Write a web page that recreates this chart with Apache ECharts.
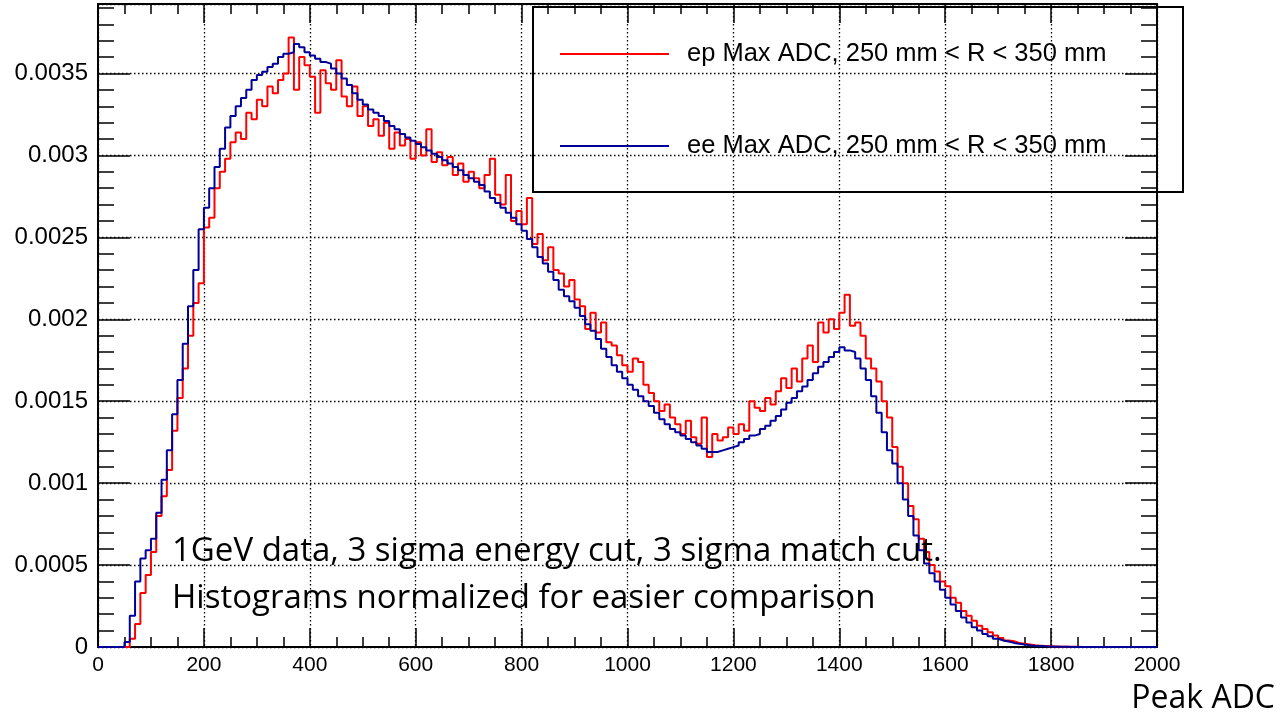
<!DOCTYPE html>
<html>
<head>
<meta charset="utf-8">
<script src="https://cdn.jsdelivr.net/npm/echarts@6/dist/echarts.min.js"></script>
<style>
html,body{margin:0;padding:0;background:#fff;}
#chart{width:1281px;height:715px;}
</style>
</head>
<body>
<div id="chart"></div>
<script>
// Bin width 10 ADC, bins start at 0. Values in units of 1e-3.
const binWidth = 10;
const xMax = 2000;
const yTicks = ['0','0.0005','0.001','0.0015','0.002','0.0025','0.003','0.0035'];
const seriesNames = ['ep Max ADC, 250 mm < R < 350 mm', 'ee Max ADC, 250 mm < R < 350 mm'];

const epValues = [
  0,0,0,0,0,0,0.05,0.14,0.33,0.44,
  0.58,0.80,0.92,1.08,1.32,1.52,1.70,1.90,2.10,2.22,
  2.56,2.62,2.80,2.90,2.98,3.08,3.14,3.10,3.26,3.22,
  3.34,3.30,3.42,3.38,3.46,3.50,3.72,3.40,3.60,3.55,
  3.48,3.26,3.52,3.44,3.40,3.58,3.36,3.30,3.42,3.24,
  3.30,3.18,3.22,3.12,3.20,3.04,3.14,3.06,3.10,2.98,
  3.08,3.00,3.16,2.96,3.02,2.94,2.99,2.88,2.95,2.84,
  2.90,2.86,2.80,2.88,2.98,2.76,2.70,2.88,2.60,2.66,
  2.58,2.74,2.46,2.52,2.36,2.44,2.30,2.28,2.20,2.24,
  2.12,2.08,1.94,2.04,1.92,1.98,1.86,1.84,1.78,1.72,
  1.68,1.76,1.74,1.60,1.55,1.50,1.44,1.48,1.40,1.36,
  1.30,1.38,1.28,1.24,1.40,1.16,1.30,1.26,1.28,1.34,
  1.30,1.36,1.32,1.50,1.46,1.44,1.52,1.48,1.56,1.64,
  1.58,1.70,1.62,1.76,1.84,1.74,1.98,1.92,2.00,1.94,
  2.04,2.15,1.96,1.98,1.90,1.76,1.70,1.62,1.50,1.40,
  1.22,1.10,1.00,0.86,0.78,0.66,0.58,0.50,0.46,0.40,
  0.37,0.30,0.27,0.22,0.19,0.16,0.13,0.11,0.09,0.07,
  0.055,0.04,0.035,0.025,0.02,0.015,0.01,0.008,0.006,0.004,
  0.003,0.002,0.002,0.001,0.001,0,0,0,0,0,
  0,0,0,0,0,0,0,0,0,0
];

const eeValues = [
  0,0,0,0,0,0.03,0.19,0.40,0.54,0.59,
  0.66,0.82,1.02,1.20,1.42,1.63,1.85,2.08,2.30,2.55,
  2.68,2.80,2.93,3.04,3.17,3.24,3.30,3.35,3.40,3.46,
  3.49,3.51,3.54,3.56,3.60,3.62,3.63,3.68,3.66,3.63,
  3.61,3.59,3.57,3.56,3.53,3.50,3.47,3.43,3.38,3.34,
  3.31,3.28,3.26,3.24,3.21,3.18,3.16,3.13,3.11,3.09,
  3.07,3.05,3.03,3.01,2.99,2.97,2.95,2.93,2.91,2.88,
  2.86,2.84,2.82,2.78,2.74,2.71,2.68,2.65,2.62,2.58,
  2.54,2.49,2.44,2.38,2.34,2.29,2.24,2.18,2.14,2.11,
  2.07,2.02,1.97,1.93,1.88,1.82,1.77,1.72,1.68,1.64,
  1.60,1.57,1.53,1.50,1.47,1.43,1.39,1.36,1.33,1.31,
  1.29,1.27,1.25,1.23,1.21,1.19,1.19,1.20,1.21,1.22,
  1.23,1.25,1.27,1.29,1.30,1.33,1.35,1.38,1.41,1.45,
  1.49,1.52,1.56,1.59,1.63,1.67,1.71,1.74,1.77,1.80,
  1.83,1.81,1.80,1.76,1.70,1.63,1.53,1.43,1.31,1.20,
  1.12,1.00,0.90,0.80,0.68,0.59,0.51,0.45,0.40,0.35,
  0.30,0.26,0.22,0.18,0.15,0.12,0.10,0.08,0.065,0.05,
  0.04,0.033,0.025,0.02,0.015,0.011,0.008,0.006,0.004,0.003,
  0.002,0.0015,0.001,0.0005,0.0005,0,0,0,0,0,
  0,0,0,0,0,0,0,0,0,0
];

function toSteps(vals) {
  const pts = vals.map((v, i) => [i * binWidth, v * 1e-3]);
  pts.push([vals.length * binWidth, vals[vals.length - 1] * 1e-3]);
  return pts;
}

const chart = echarts.init(document.getElementById('chart'), null, {renderer: 'canvas'});
const gridL = 98, gridR = 124, gridT = 4, gridB = 68;
const yMax = 0.003924;
const labelFont = "'Liberation Sans', Arial, Helvetica, sans-serif";
const noteFont = "33px 'Open Sans', 'Noto Sans', sans-serif";
const gridLine = {show: true, lineStyle: {color: '#000', width: 1.3, type: [1.5, 2.5]}};

const option = {
  animation: false,
  backgroundColor: '#fff',
  grid: {left: gridL, right: gridR, top: gridT, bottom: gridB, show: true, borderColor: '#000', borderWidth: 2},
  xAxis: [{
    type: 'value', min: 0, max: xMax, interval: 200, position: 'bottom',
    axisLine: {show: true, onZero: false, lineStyle: {color: '#000', width: 2}},
    axisTick: {show: true, inside: true, length: 19, lineStyle: {color: '#000', width: 1.5}},
    minorTick: {show: true, splitNumber: 4, length: 10, lineStyle: {color: '#000', width: 1.5}},
    axisLabel: {show: true, color: '#000', fontSize: 21, fontFamily: labelFont, margin: 8,
      formatter: function (v) { return String(Math.round(v)); }},
    splitLine: gridLine
  }, {
    type: 'value', min: 0, max: xMax, interval: 200, position: 'top',
    axisLine: {show: true, onZero: false, lineStyle: {color: '#000', width: 2}},
    axisTick: {show: true, inside: true, length: 19, lineStyle: {color: '#000', width: 1.5}},
    minorTick: {show: true, splitNumber: 4, length: 10, lineStyle: {color: '#000', width: 1.5}},
    axisLabel: {show: false},
    splitLine: {show: false}
  }],
  yAxis: [{
    type: 'value', min: 0, max: yMax, interval: 0.0005, position: 'left',
    axisLine: {show: true, onZero: false, lineStyle: {color: '#000', width: 2}},
    axisTick: {show: true, inside: true, length: 32, lineStyle: {color: '#000', width: 1.5}},
    minorTick: {show: true, splitNumber: 5, length: 16, lineStyle: {color: '#000', width: 1.5}},
    axisLabel: {
      show: true, color: '#000', fontSize: 24, fontFamily: labelFont, margin: 10, showMaxLabel: false,
      formatter: function (v) {
        const idx = Math.round(v / 0.0005);
        return Math.abs(v - idx * 0.0005) < 1e-9 && idx < yTicks.length ? yTicks[idx] : '';
      }
    },
    splitLine: gridLine
  }, {
    type: 'value', min: 0, max: yMax, interval: 0.0005, position: 'right',
    axisLine: {show: true, onZero: false, lineStyle: {color: '#000', width: 2}},
    axisTick: {show: true, inside: true, length: 32, lineStyle: {color: '#000', width: 1.5}},
    minorTick: {show: true, splitNumber: 5, length: 16, lineStyle: {color: '#000', width: 1.5}},
    axisLabel: {show: false},
    splitLine: {show: false}
  }],
  legend: {
    show: true, orient: 'vertical', left: 555, top: 34,
    itemWidth: 109, itemHeight: 2, itemGap: 62, icon: 'rect',
    data: seriesNames,
    textStyle: {fontSize: 25.5, fontFamily: labelFont, color: '#000', padding: [0, 0, 0, 13], lineHeight: 30}
  },
  series: [{
    name: seriesNames[0], type: 'line', step: 'end', showSymbol: false,
    xAxisIndex: 0, yAxisIndex: 0, z: 3,
    lineStyle: {color: '#ff0000', width: 2}, itemStyle: {color: '#ff0000'},
    data: toSteps(epValues)
  }, {
    name: seriesNames[1], type: 'line', step: 'end', showSymbol: false,
    xAxisIndex: 0, yAxisIndex: 0, z: 4,
    lineStyle: {color: '#000099', width: 2}, itemStyle: {color: '#000099'},
    data: toSteps(eeValues)
  }],
  graphic: [{
    type: 'rect', left: 532, top: 6, z: 10, silent: true,
    shape: {width: 650, height: 185},
    style: {fill: 'rgba(0,0,0,0)', stroke: '#000', lineWidth: 2}
  }, {
    type: 'text', left: 172, top: 535, z: 10,
    style: {text: '1GeV data, 3 sigma energy cut, 3 sigma match cut.', font: noteFont, fill: '#000'}
  }, {
    type: 'text', left: 172, top: 582, z: 10,
    style: {text: 'Histograms normalized for easier comparison', font: noteFont, fill: '#000'}
  }, {
    type: 'text', right: 6, top: 683, z: 10,
    style: {text: 'Peak ADC', font: "32px 'Open Sans', 'Noto Sans', sans-serif", fill: '#000'}
  }]
};
chart.setOption(option);
</script>
</body>
</html>
